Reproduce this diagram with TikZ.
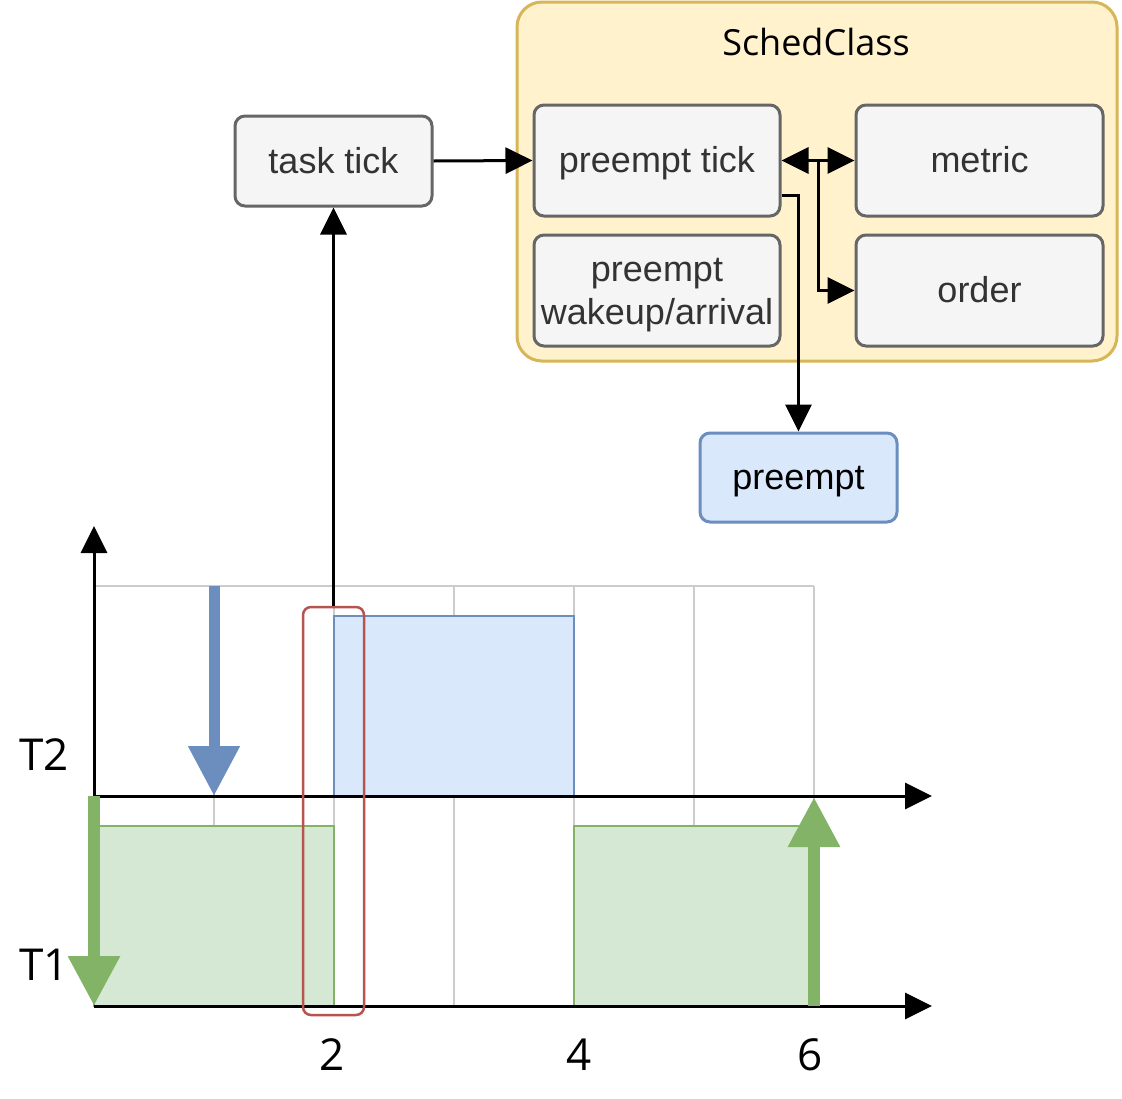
\documentclass[tikz,border=0pt]{standalone}
\usepackage{fontspec}
\setmainfont{Open Sans}
\newfontfamily\boxfont{Liberation Sans}
\usetikzlibrary{arrows.meta}
\definecolor{gbox}{HTML}{F5F5F5}
\definecolor{gline}{HTML}{666666}
\definecolor{gtext}{HTML}{333333}
\definecolor{yfill}{HTML}{FFF2CC}
\definecolor{yline}{HTML}{D6B656}
\definecolor{bfill}{HTML}{DAE8FC}
\definecolor{bline}{HTML}{6C8EBF}
\definecolor{grfill}{HTML}{D5E8D4}
\definecolor{grline}{HTML}{82B366}
\definecolor{rline}{HTML}{B85450}
\definecolor{grid}{HTML}{CCCCCC}
\tikzset{
  blk/.tip={Triangle[length=27pt,width=26pt]},
  bigtip/.tip={Triangle[length=50pt,width=49pt]},
  nodefont/.style={font=\boxfont\fontsize{36}{43}\selectfont},
  gbx/.style={draw=gline, fill=gbox, line width=3pt, rounded corners=10pt, text=gtext, nodefont, inner sep=0pt, align=center, text height=29pt, text depth=5pt},
  conn/.style={line width=3pt, -blk},
  axis/.style={line width=3pt, -blk},
  gridline/.style={draw=grid, line width=2pt},
  lbl/.style={font=\fontsize{44}{46}\selectfont, text=black, inner sep=0pt},
}
\begin{document}
\begin{tikzpicture}[x=1pt,y=-1pt]
\useasboundingbox[fill=white] (0,0) rectangle (1122,1098);

% SchedClass container
\draw[draw=yline, fill=yfill, line width=3pt, rounded corners=25pt] (517,2) rectangle (1117,361);
\node[font=\fontsize{36}{40}\selectfont, text=black, inner sep=0pt, anchor=base] (sc) at (816,55) {SchedClass};

% nodes
\node[gbx, minimum width=197pt, minimum height=90pt] (tt) at (333.5,161) {task tick};
\node[gbx, minimum width=246pt, minimum height=111pt] (pt) at (657,160.5) {preempt tick};
\node[gbx, minimum width=247pt, minimum height=111pt] (me) at (979.5,160.5) {metric};
\node[gbx, text height=72pt, minimum width=246pt, minimum height=111pt] (wk) at (657,290.5) {preempt\\wakeup/arrival};
\node[gbx, minimum width=247pt, minimum height=111pt] (or) at (979.5,290.5) {order};
\node[gbx, draw=bline, fill=bfill, text=black, minimum width=197pt, minimum height=89pt] (pr) at (798.5,477.5) {preempt};

% connectors
\draw[conn] (tt.east) -- (pt.west);
\draw[line width=3pt, blk-blk] (pt.east) -- (me.west);
\coordinate (jn) at (818,160.5);
\draw[conn] (jn) |- (or.west);
\draw[conn] ([yshift=22pt]pt.south east) -| (pr.north);

% grid
\draw[gridline] (94,586) -- (814,586);
\foreach \x in {214,334,454,574,694,814}{
  \draw[gridline] (\x,586) -- (\x,1006);
}

% task bars
\draw[draw=bline, fill=bfill, line width=2pt] (334,616) rectangle (574,796);
\draw[draw=grline, fill=grfill, line width=2pt] (94,826) rectangle (334,1006);
\draw[draw=grline, fill=grfill, line width=2pt] (574,826) rectangle (814,1006);

% axes
\coordinate (o2) at (94,796);
\coordinate (o1) at (94,1006);
\coordinate (x2) at (932,796);
\coordinate (x1) at (932,1006);
\coordinate (ytop) at (94,526);
\draw[axis] (o2) -- (x2);
\draw[axis] (o1) -- (x1);
\draw[axis] (o2) -- (ytop);

% event arrows
\coordinate (ba) at (214,586);
\coordinate (bb) at (214,796);
\draw[draw=bline, line width=11pt, -bigtip] (ba) -- (bb);
\coordinate (ga) at (94,796);
\coordinate (gb) at (94,1006);
\draw[draw=grline, line width=12pt, -bigtip] (ga) -- (gb);
\coordinate (gc) at (814,1006);
\coordinate (gd) at (814,797);
\draw[draw=grline, line width=12pt, -bigtip] (gc) -- (gd);

% window
\node[draw=rline, line width=2.5pt, rounded corners=8pt, minimum width=61pt, minimum height=408pt, inner sep=0pt] (win) at (333.5,811) {};
\draw[conn] (win.north) -- (tt.south);

% labels
\node[lbl, anchor=base west] (t2) at (19,770) {T2};
\node[lbl, anchor=base west] (t1) at (19,980) {T1};
\node[lbl, anchor=base] (n2) at (332.5,1070) {2};
\node[lbl, anchor=base] (n4) at (579.5,1070) {4};
\node[lbl, anchor=base] (n6) at (810,1070) {6};
\end{tikzpicture}
\end{document}
